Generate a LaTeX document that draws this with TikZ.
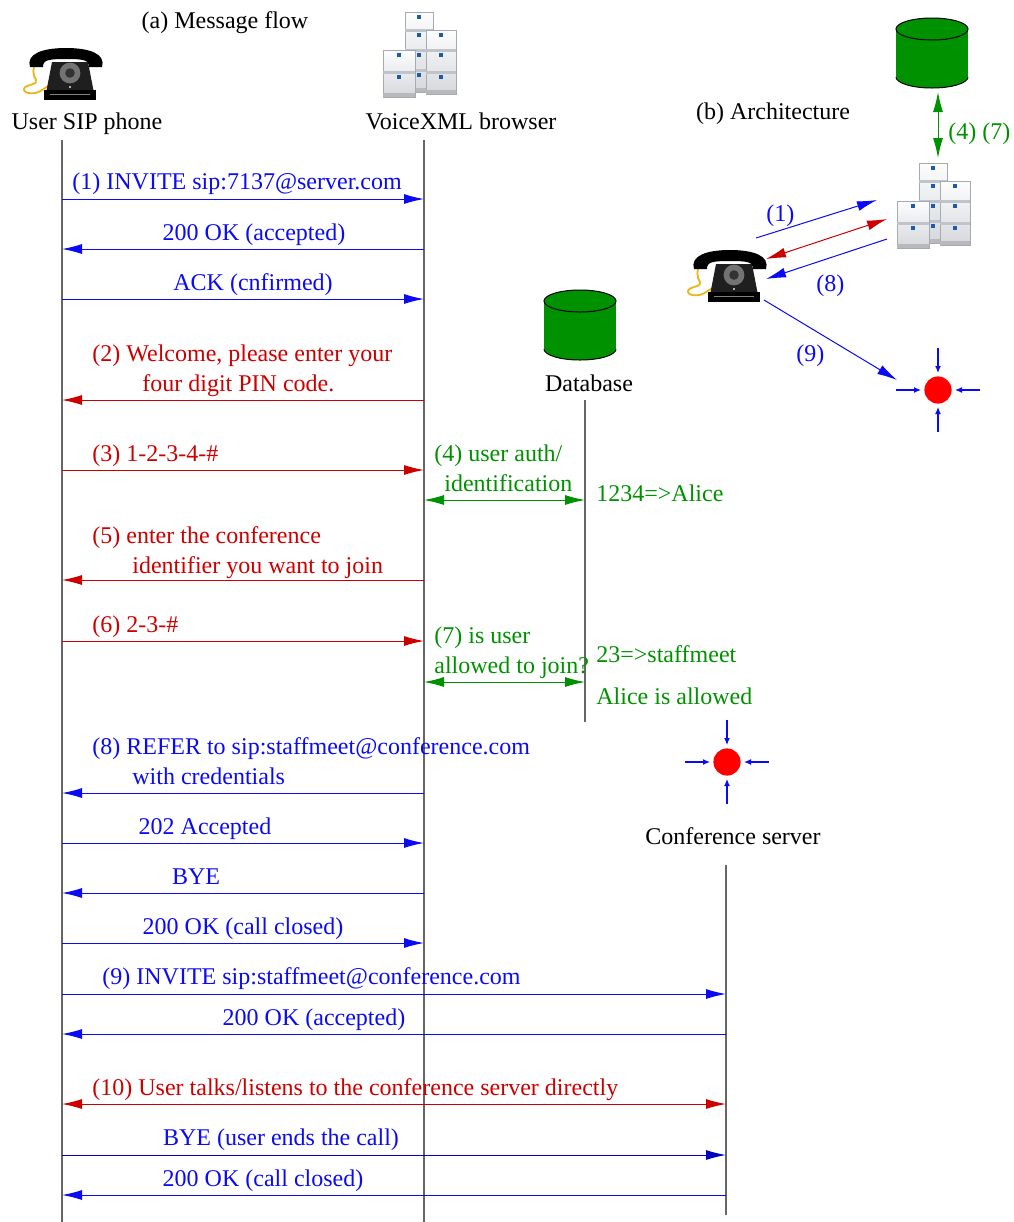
\documentclass[tikz,border=0pt]{standalone}
\usepackage{fontspec}
\setmainfont{Liberation Serif}
\usetikzlibrary{arrows.meta}

\definecolor{msgblue}{RGB}{10,10,245}
\definecolor{msgred}{RGB}{205,0,0}
\definecolor{msggreen}{RGB}{0,145,0}
\definecolor{cord}{RGB}{232,182,24}
\definecolor{cabface}{RGB}{228,231,236}
\definecolor{cabedge}{RGB}{165,170,180}
\definecolor{cabhandle}{RGB}{30,90,170}

% one filing cabinet: x, y, width, list of drawer tops, bottom
\newcommand\drawcabinet[5]{%
  \shade[top color=white!92!cabface, bottom color=cabface!85!gray]
    (#1,#2) rectangle ++(#3,#5-#2);
  \draw[cabedge, line width=0.3pt] (#1,#2) rectangle ++(#3,#5-#2);
  \foreach \dy in {#4} {
    \fill[cabedge!70] (#1,\dy-1.5) rectangle ++(#3,3);
    \fill[cabhandle] (#1+#3/2-2,\dy+3) rectangle ++(4,4);
  }
  \fill[gray!55] (#1,#5-4) rectangle ++(#3,4);
}

\tikzset{
  phone/.pic={
    % coiled cord
    \draw[cord, line width=0.9pt]
      (14,14) .. controls (10,20) and (11,28) .. (14,32)
      .. controls (17,37) and (3,36) .. (2,41)
      .. controls (1,46) and (14,47) .. (20,42)
      .. controls (23,40) and (26,38) .. (30,36);
    % body and base
    \fill[black!88] (30,14) -- (66,14) -- (72,45) -- (24,45) -- cycle;
    \fill[black] (22,42) rectangle (74,52);
    \draw[black!50, line width=0.4pt] (28,46) -- (68,46);
    \fill[white!70!black] (47,38) rectangle ++(2,2);
    % dial
    \fill[black!55] (48,25) circle (5.2pt);
    \fill[black!80] (48,25) circle (2.4pt);
    % handset
    \fill[black] (8,19) .. controls (4,6) and (20,0) .. (44,0)
      .. controls (68,0) and (84,6) .. (80,19)
      -- (67,19) .. controls (67,12) and (62,11) .. (44,11)
      .. controls (26,11) and (21,12) .. (21,19) -- cycle;
  },
  server/.pic={
    \drawcabinet{22}{0}{28}{18,38,58}{80}
    \drawcabinet{43}{18}{30}{38,60}{82}
    \drawcabinet{0}{38}{32}{60}{85}
    \fill[cabhandle] (34,3) rectangle ++(4,4);
    \fill[cabhandle] (56,21) rectangle ++(4,4);
    \fill[cabhandle] (14,41) rectangle ++(4,4);
  },
  database/.pic={
    \fill[msggreen] (0,59) ellipse (18pt and 5.5pt);
    \draw[black, line width=0.5pt] (-36,59) arc[start angle=180, end angle=360, x radius=18pt, y radius=5.5pt];
    \fill[msggreen] (-36,11) rectangle (36,59);
    \filldraw[fill=msggreen, draw=black, line width=0.5pt] (0,11) ellipse (18pt and 5.5pt);
  },
  confserver/.pic={
    \fill[red] (0,0) circle (6.8pt);
    \foreach \a in {0,90,180,270}
      \draw[msgblue, line width=0.6pt, -{Latex[length=3.5pt,width=3pt]}]
        (\a:42) -- (\a:17);
  },
  every node/.style={font=\fontsize{12pt}{14pt}\selectfont, inner sep=0pt},
  lbl/.style={anchor=base west},
  clbl/.style={anchor=base},
  life/.style={line width=0.6pt, black!60},
  tip/.style={line width=0.5pt, -{Latex[length=10pt,width=5pt]}},
  both/.style={line width=0.5pt, {Latex[length=10pt,width=5pt]}-{Latex[length=10pt,width=5pt]}},
}

\begin{document}
\begin{tikzpicture}[x=0.5pt,y=-0.5pt]
\useasboundingbox (0,0) rectangle (1013,1222);

% ---------- (a) message flow ----------
\node[clbl] (titleA) at (225,28) {(a) Message flow};

\pic at (22,48) {phone};
\pic at (383,12) {server};
\pic at (580,290) {database};
\pic at (727,762) {confserver};

\node[clbl] (phoneLbl) at (87,129) {User SIP phone};
\node[clbl] (vxLbl) at (461,129) {VoiceXML browser};
\node[clbl] (dbLbl) at (589,391) {Database};
\node[clbl] (csLbl) at (733,844) {Conference server};

% lifelines
\coordinate (ph) at (62,140);  \coordinate (phEnd) at (62,1222);
\coordinate (vx) at (424,140); \coordinate (vxEnd) at (424,1222);
\coordinate (db) at (585,400); \coordinate (dbEnd) at (585,722);
\coordinate (cs) at (726,865); \coordinate (csEnd) at (726,1215);
\draw[life] (ph) -- (phEnd);
\draw[life] (vx) -- (vxEnd);
\draw[life] (db) -- (dbEnd);
\draw[life] (cs) -- (csEnd);

% messages
\begin{scope}[msgblue]
\node[lbl] (m1) at (72,189) {(1) INVITE sip:7137@server.com};
\draw[tip] (ph |- 0,199) -- (vx |- 0,199);
\node[clbl] (m2) at (254,240) {200 OK (accepted)};
\draw[tip] (vx |- 0,249) -- (ph |- 0,249);
\node[clbl] (m3) at (253,290) {ACK (cnfirmed)};
\draw[tip] (ph |- 0,299) -- (vx |- 0,299);
\end{scope}

\begin{scope}[msgred]
\node[lbl] (m4a) at (92,361) {(2) Welcome, please enter your};
\node[lbl] (m4b) at (142,391) {four digit PIN code.};
\draw[tip] (vx |- 0,400) -- (ph |- 0,400);
\node[lbl] (m5) at (92,461) {(3) 1-2-3-4-\#};
\draw[tip] (ph |- 0,470) -- (vx |- 0,470);
\end{scope}

\begin{scope}[msggreen]
\node[lbl] (m6a) at (434,461) {(4) user auth/};
\node[lbl] (m6b) at (444,491) {identification};
\draw[both] (vx |- 0,500) -- (db |- 0,500);
\node[lbl] (r1) at (596,501) {1234=>Alice};
\end{scope}

\begin{scope}[msgred]
\node[lbl] (m7a) at (92,543) {(5) enter the conference};
\node[lbl] (m7b) at (132,573) {identifier you want to join};
\draw[tip] (vx |- 0,580) -- (ph |- 0,580);
\node[lbl] (m8) at (92,632) {(6) 2-3-\#};
\draw[tip] (ph |- 0,641) -- (vx |- 0,641);
\end{scope}

\begin{scope}[msggreen]
\node[lbl] (m9a) at (434,643) {(7) is user};
\node[lbl] (m9b) at (434,673) {allowed to join?};
\draw[both] (vx |- 0,682) -- (db |- 0,682);
\node[lbl] (r2) at (596,662) {23=>staffmeet};
\node[lbl] (r3) at (596,704) {Alice is allowed};
\end{scope}

\begin{scope}[msgblue]
\node[lbl] (m10a) at (92,754) {(8) REFER to sip:staffmeet@conference.com};
\node[lbl] (m10b) at (132,784) {with credentials};
\draw[tip] (vx |- 0,793) -- (ph |- 0,793);
\node[clbl] (m11) at (205,834) {202 Accepted};
\draw[tip] (ph |- 0,843) -- (vx |- 0,843);
\node[clbl] (m12) at (196,884) {BYE};
\draw[tip] (vx |- 0,893) -- (ph |- 0,893);
\node[clbl] (m13) at (243,934) {200 OK (call closed)};
\draw[tip] (ph |- 0,943) -- (vx |- 0,943);
\node[lbl] (m14) at (102,984) {(9) INVITE sip:staffmeet@conference.com};
\draw[tip] (ph |- 0,994) -- (cs |- 0,994);
\node[clbl] (m15) at (314,1025) {200 OK (accepted)};
\draw[tip] (cs |- 0,1034) -- (ph |- 0,1034);
\end{scope}

\begin{scope}[msgred]
\node[lbl] (m16) at (92,1095) {(10) User talks/listens to the conference server directly};
\draw[both] (ph |- 0,1104) -- (cs |- 0,1104);
\end{scope}

\begin{scope}[msgblue]
\node[clbl] (m17) at (281,1145) {BYE (user ends the call)};
\draw[tip, blue!75!black] (ph |- 0,1155) -- (cs |- 0,1155);
\node[clbl] (m18) at (263,1186) {200 OK (call closed)};
\draw[tip] (cs |- 0,1195) -- (ph |- 0,1195);
\end{scope}

% ---------- (b) architecture ----------
\node[clbl] (titleB) at (773,119) {(b) Architecture};
\pic at (932,18) {database};
\pic at (897,163) {server};
\pic at (686,250) {phone};
\pic at (938,390) {confserver};

\coordinate (dbB) at (938,92);
\coordinate (vxB) at (938,158);
\draw[both, msggreen] (dbB) -- (vxB);
\node[lbl, msggreen] (a47) at (948,139) {(4) (7)};

\coordinate (a1s) at (756,238); \coordinate (a1e) at (877,200);
\coordinate (a2s) at (766,259); \coordinate (a2e) at (887,219);
\coordinate (a8s) at (887,239); \coordinate (a8e) at (766,279);
\coordinate (a9s) at (764,300); \coordinate (a9e) at (897,380);
\draw[tip, msgblue] (a1s) -- (a1e);
\draw[both, msgred] (a2s) -- (a2e);
\draw[tip, msgblue] (a8s) -- (a8e);
\draw[tip, msgblue] (a9s) -- (a9e);
\node[lbl, msgblue] (l1) at (766,221) {(1)};
\node[lbl, msgblue] (l8) at (816,291) {(8)};
\node[lbl, msgblue] (l9) at (796,361) {(9)};
\end{tikzpicture}
\end{document}
